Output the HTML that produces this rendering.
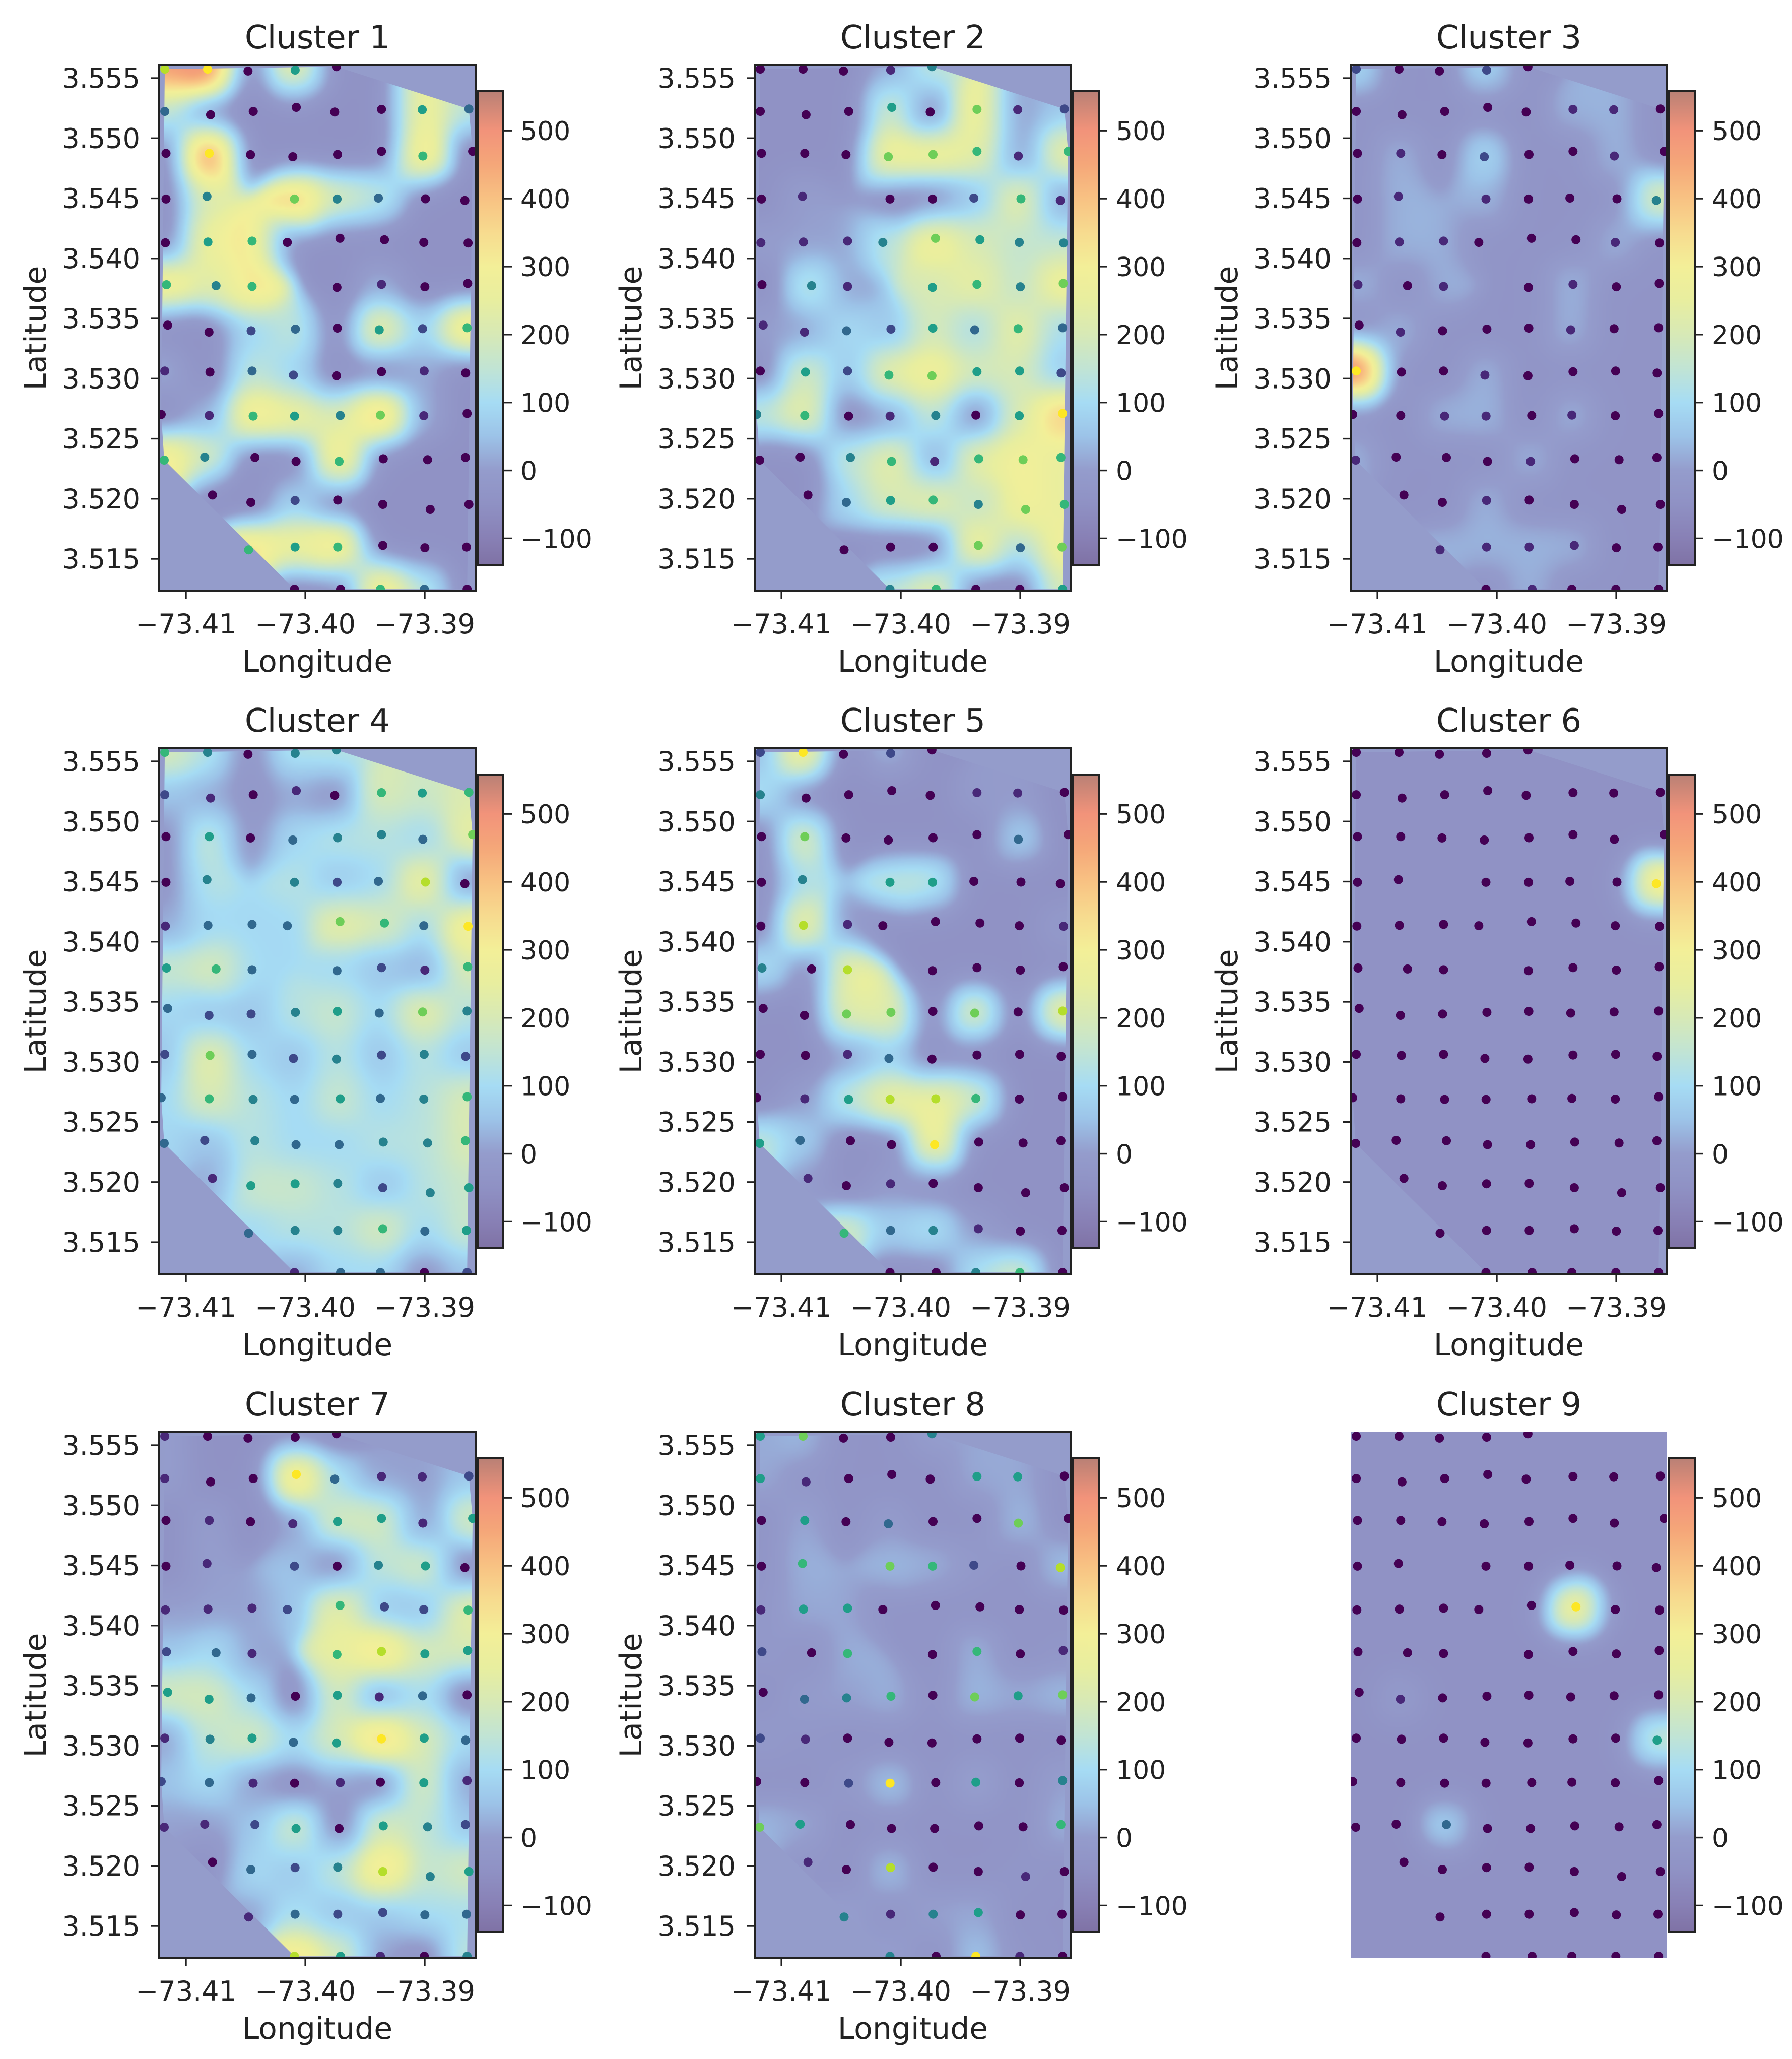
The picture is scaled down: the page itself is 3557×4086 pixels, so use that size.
<!DOCTYPE html>
<html><head><meta charset="utf-8">
<style>
html,body{margin:0;padding:0;background:#fff;}
#wrap{position:relative;width:3557px;height:4086px;overflow:hidden;background:#fff;}
canvas{position:absolute;}
#overlay{position:absolute;left:0;top:0;}
text{font-family:"DejaVu Sans","Liberation Sans",sans-serif;fill:#222;}
</style></head>
<body>
<div id="wrap">
<svg id="overlay" width="3557" height="4086" xmlns="http://www.w3.org/2000/svg"></svg>
</div>
<script>
// ---- data ----
const clusterNames = ["Cluster 1","Cluster 2","Cluster 3","Cluster 4","Cluster 5","Cluster 6","Cluster 7","Cluster 8","Cluster 9"];
const rowLons = [
 [-73.41177,-73.40819,-73.40480,-73.40085,-73.39739],
 [-73.41177,-73.40794,-73.40436,-73.40076,-73.39754,-73.39362,-73.39021,-73.38630],
 [-73.41167,-73.40805,-73.40459,-73.40105,-73.39730,-73.39362,-73.39016,-73.38599],
 [-73.41167,-73.40824,-73.40091,-73.39734,-73.39388,-73.38994,-73.38664],
 [-73.41172,-73.40816,-73.40446,-73.40151,-73.39710,-73.39337,-73.39008,-73.38637],
 [-73.41163,-73.40748,-73.40446,-73.39735,-73.39362,-73.38999,-73.38640],
 [-73.41153,-73.40807,-73.40454,-73.40083,-73.39732,-73.39381,-73.39018,-73.38645],
 [-73.41177,-73.40799,-73.40446,-73.40100,-73.39739,-73.39362,-73.39005,-73.38657],
 [-73.41207,-73.40805,-73.40437,-73.40090,-73.39708,-73.39371,-73.39008,-73.38645],
 [-73.41182,-73.40843,-73.40422,-73.40078,-73.39717,-73.39347,-73.38976,-73.38659],
 [-73.40778,-73.40456,-73.40086,-73.39729,-73.39351,-73.38954,-73.38630],
 [-73.40475,-73.40086,-73.39729,-73.39351,-73.38999,-73.38650],
 [-73.40091,-73.39705,-73.39371,-73.39003,-73.38645]
];
const rowLats = [
 [3.55575,3.55575,3.55559,3.55567,3.55595],
 [3.55223,3.55195,3.55223,3.55257,3.55218,3.55240,3.55237,3.55243],
 [3.54874,3.54874,3.54863,3.54846,3.54865,3.54891,3.54852,3.54891],
 [3.54494,3.54516,3.54494,3.54494,3.54502,3.54496,3.54482],
 [3.54130,3.54136,3.54144,3.54133,3.54167,3.54155,3.54133,3.54128],
 [3.53781,3.53773,3.53767,3.53759,3.53784,3.53764,3.53792],
 [3.53445,3.53387,3.53398,3.53412,3.53420,3.53406,3.53415,3.53423],
 [3.53063,3.53054,3.53063,3.53029,3.53023,3.53057,3.53063,3.53046],
 [3.52702,3.52693,3.52688,3.52688,3.52693,3.52696,3.52691,3.52710],
 [3.52322,3.52347,3.52344,3.52311,3.52311,3.52333,3.52325,3.52344],
 [3.52031,3.51970,3.51986,3.51989,3.51953,3.51911,3.51953],
 [3.51575,3.51598,3.51598,3.51612,3.51592,3.51598],
 [3.51248,3.51248,3.51248,3.51248,3.51248]
];
// point levels 0..9 per cluster (row strings)
const levels1 = ["89050","30000053","09000060","0474300","05600000","6460100","00230526","10320010","01654710","64006000","0020000","656000","00630"];
const levels2 = ["00014","00050712","00077616","0100261","11147544","0415647","11325363","05267552","46014059","00461676","0356476","000737","46005"];
const levels3 = ["20020","00000110","01020010","0110004","01100010","1010100","01000100","90010000","00110100","10001000","0010000","111100","01000"];
const levels4 = ["64044","21010656","05034437","0442380","13337639","5633216","32245374","27324242","36435346","32433446","1554245","344635","13302"];
const levels5 = ["29020","40000110","07000030","0455000","08100001","4080000","00770708","00130000","01588600","53009000","1010000","634100","00460"];
const levels6 = ["00000","00000000","00000000","0000009","00000000","0000000","00000000","00000000","00000000","00000000","0000000","000000","00000"];
const levels7 = ["10000","10093112","01015515","0120450","11126226","2316855","55305130","14535953","23101051","11250542","0324845","132233","85104"];
const levels8 = ["57004","51000550","05030070","0676208","15500000","2060601","03460757","21000000","00290504","75000006","1080010","414500","40910"];
const levels9 = ["00000","00000000","00000000","0000000","00000900","0000000","01000000","00000005","00000000","00300000","0000000","000000","00000"];
const allLevels = [levels1,levels2,levels3,levels4,levels5,levels6,levels7,levels8,levels9];
const heatHigh = [540,400,560,330,320,360,400,60,360];
const heatLow = [-45,-45,-35,-25,-45,-45,-45,-35,-45];
const xTicks = [-73.41,-73.40,-73.39];
const xTickLabels = ["\u221273.41","\u221273.40","\u221273.39"];
const yTicks = [3.515,3.520,3.525,3.530,3.535,3.540,3.545,3.550,3.555];
const yTickLabels = ["3.515","3.520","3.525","3.530","3.535","3.540","3.545","3.550","3.555"];
const cbTicks = [-100,0,100,200,300,400,500];
const cbTickLabels = ["\u2212100","0","100","200","300","400","500"];

// ---- geometry ----
const LON0=-73.41224, LON1=-73.38574, LAT0=3.51232, LAT1=3.55609;
const AW=628, AH=1044;
const colX=[316,1498,2681], rowY=[129,1485,2842];
const VMIN=-139, VMAX=558;
const hullIdx=[[0,0],[0,4],[1,7],[2,7],[12,4],[12,0],[9,0],[8,0]];

const cmapV=[-139,-100,-50,0,50,100,150,200,250,300,350,400,450,500,558];
const cmapC=[[127,114,165],[136,128,181],[143,145,196],[148,156,204],[156,195,232],[166,220,244],[193,228,212],[215,233,182],[232,238,159],[243,239,152],[247,219,143],[248,194,131],[245,167,121],[242,147,122],[185,128,117]];
function cmap(v){
  if(v<=cmapV[0])return cmapC[0];
  for(let i=1;i<cmapV.length;i++){if(v<=cmapV[i]){const t=(v-cmapV[i-1])/(cmapV[i]-cmapV[i-1]);const a=cmapC[i-1],b=cmapC[i];return [a[0]+(b[0]-a[0])*t,a[1]+(b[1]-a[1])*t,a[2]+(b[2]-a[2])*t];}}
  return cmapC[cmapC.length-1];
}
const viridis=["#440154","#482878","#3e4989","#31688e","#26828e","#1f9e89","#35b779","#6ece58","#b5de2b","#fde725"];
const xs=lon=>(lon-LON0)/(LON1-LON0)*AW;
const ys=lat=>(LAT1-lat)/(LAT1-LAT0)*AH;

const NS="http://www.w3.org/2000/svg";
const svg=document.getElementById('overlay');
const wrap=document.getElementById('wrap');
function mk(tag,attrs,parent){const e=document.createElementNS(NS,tag);for(const k in attrs)e.setAttribute(k,attrs[k]);(parent||svg).appendChild(e);return e;}

const defs=mk('defs',{});
const grad=mk('linearGradient',{id:'cbgrad',x1:0,y1:1,x2:0,y2:0},defs);
cmapV.forEach((v,i)=>{mk('stop',{offset:((v-VMIN)/(VMAX-VMIN)).toFixed(4),'stop-color':'rgb('+cmapC[i].map(Math.round).join(',')+')'},grad);});

for(let c=0;c<9;c++){
  const X0=colX[c%3], Y0=rowY[Math.floor(c/3)];
  const lv=allLevels[c], hi=heatHigh[c], lo=heatLow[c];
  const pts=[];
  for(let r=0;r<rowLons.length;r++){for(let k=0;k<rowLons[r].length;k++){
    const d=+lv[r][k];
    pts.push({x:xs(rowLons[r][k]),y:ys(rowLats[r][k]),d:d,v:lo+d/9*(hi-lo)});
  }}
  const S=3, cw=Math.ceil(AW/S), ch=Math.ceil(AH/S);
  const cv=document.createElement('canvas');
  cv.width=cw;cv.height=ch;
  cv.style.left=X0+'px';cv.style.top=Y0+'px';cv.style.width=AW+'px';cv.style.height=AH+'px';
  
  
  wrap.insertBefore(cv,svg);
  const ctx=cv.getContext('2d');const img=ctx.createImageData(cw,ch);
  const sig2=2*39*39;
  for(let j=0;j<ch;j++){for(let i=0;i<cw;i++){
    const px=i*S+S/2,py=j*S+S/2;let sw=0,sv=0;
    for(const p of pts){const dx=px-p.x,dy=py-p.y;const w=Math.exp(-(dx*dx+dy*dy)/sig2)+1e-12;sw+=w;sv+=w*p.v;}
    const col=cmap(sv/sw);const o=(j*cw+i)*4;
    img.data[o]=col[0];img.data[o+1]=col[1];img.data[o+2]=col[2];img.data[o+3]=255;
  }}
  ctx.putImageData(img,0,0);

  const g=mk('g',{transform:'translate('+X0+','+Y0+')'});
  
  
  if(c<8){
    let d='M0,0H'+AW+'V'+AH+'H0Z M';
    d+=hullIdx.map(h=>xs(rowLons[h[0]][h[1]]).toFixed(1)+','+ys(rowLats[h[0]][h[1]]).toFixed(1)).join(' L')+'Z';
    const m=mk('path',{d:d,fill:'#949ccb','fill-rule':'evenodd'},g);
    
    
  }
  const cp=mk('clipPath',{id:'clip'+c},defs);mk('rect',{x:0,y:0,width:AW,height:AH},cp);
  const pg=mk('g',{'clip-path':'url(#clip'+c+')'},g);
  pts.forEach(p=>{
    const e=mk('circle',{cx:p.x.toFixed(1),cy:p.y.toFixed(1),r:9,fill:viridis[p.d]},pg);
    
    
  });
  const t=mk('text',{x:AW/2,y:-33,'font-size':64,'text-anchor':'middle'},g);t.textContent=clusterNames[c];
  
  
  if(c<8){
    const sp=mk('rect',{x:0,y:0,width:AW,height:AH,fill:'none',stroke:'#222','stroke-width':4},g);
    
    
    xTicks.forEach((v,i)=>{const x=xs(v);
      mk('line',{x1:x,y1:AH,x2:x,y2:AH+16,stroke:'#222','stroke-width':3.3},g);
      const tl=mk('text',{x:x,y:AH+84,'font-size':54,'text-anchor':'middle'},g);tl.textContent=xTickLabels[i];
      
      
    });
    yTicks.forEach((v,i)=>{const y=ys(v);
      mk('line',{x1:-16,y1:y,x2:0,y2:y,stroke:'#222','stroke-width':3.3},g);
      const tl=mk('text',{x:-38,y:y+19,'font-size':54,'text-anchor':'end'},g);tl.textContent=yTickLabels[i];
      
      
    });
    const xl=mk('text',{x:AW/2,y:AH+160,'font-size':60,'text-anchor':'middle'},g);xl.textContent='Longitude';
    
    
    const yl=mk('text',{x:0,y:0,'font-size':60,'text-anchor':'middle',transform:'translate(-225,'+(AH/2)+') rotate(-90)'},g);yl.textContent='Latitude';
    
    
  }
  const cbx=632, cbw=51, cbt=52, cbh=940;
  const cb=mk('rect',{x:cbx,y:cbt,width:cbw,height:cbh,fill:'url(#cbgrad)',stroke:'#222','stroke-width':4},g);
  
  
  cbTicks.forEach((v,i)=>{const y=cbt+(VMAX-v)/(VMAX-VMIN)*cbh;
    mk('line',{x1:cbx+cbw,y1:y,x2:cbx+cbw+17,y2:y,stroke:'#222','stroke-width':3.3},g);
    const tl=mk('text',{x:cbx+cbw+34,y:y+19,'font-size':52},g);tl.textContent=cbTickLabels[i];
    
    
  });
}
</script>
</body></html>
